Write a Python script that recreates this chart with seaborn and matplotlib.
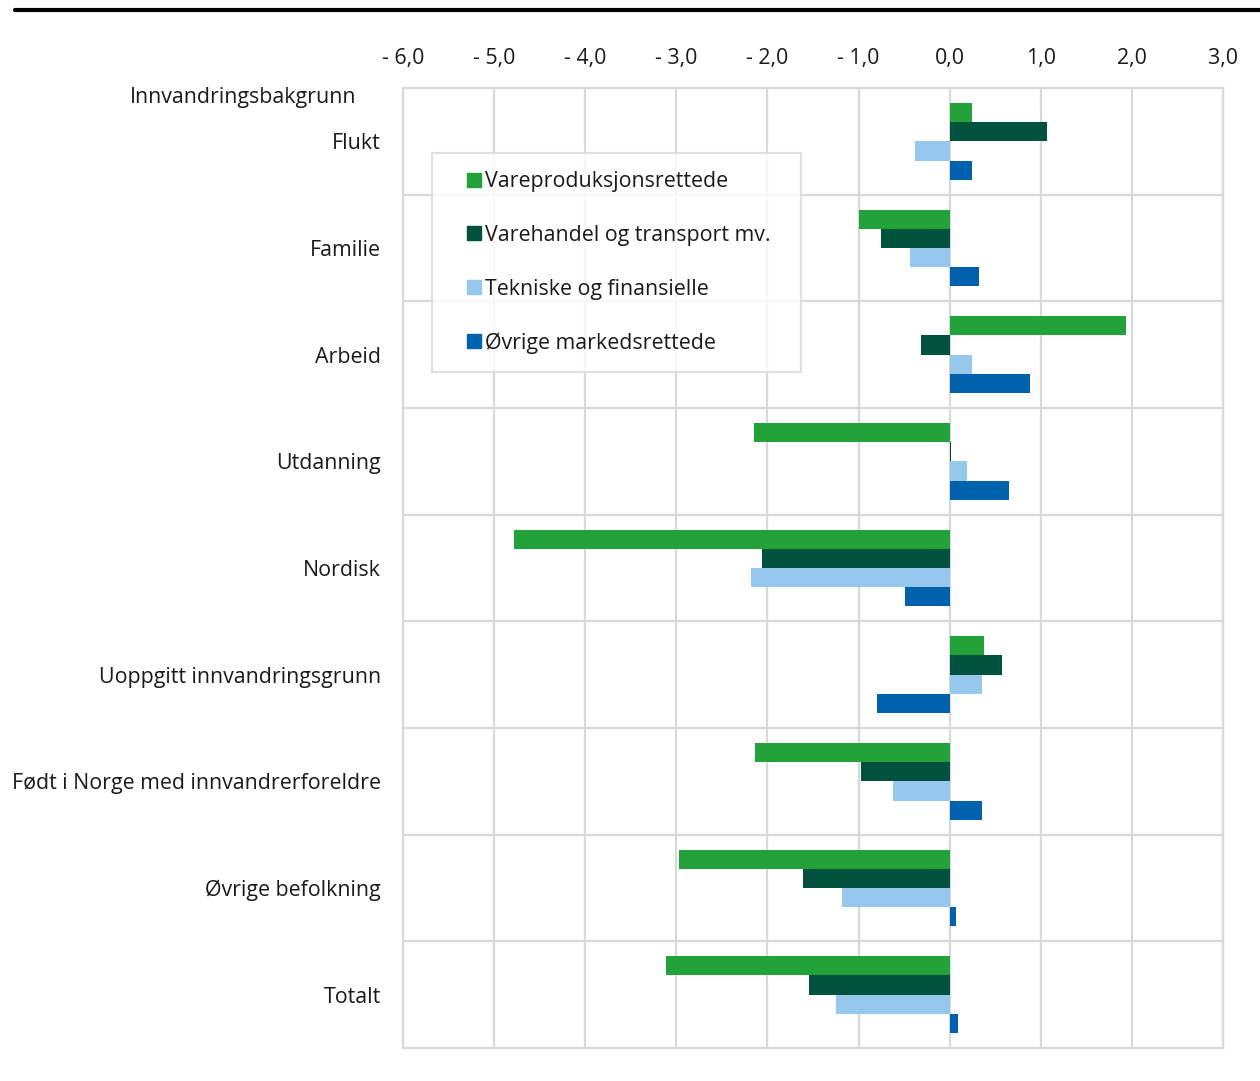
import pandas as pd
import matplotlib.pyplot as plt
import seaborn as sns
from matplotlib.lines import Line2D

# data
kategorier = ['Flukt', 'Familie', 'Arbeid', 'Utdanning', 'Nordisk',
              'Uoppgitt innvandringsgrunn', 'Født i Norge med innvandrerforeldre',
              'Øvrige befolkning', 'Totalt']
sektorer = ['Vareproduksjonsrettede', 'Varehandel og transport mv.',
            'Tekniske og finansielle', 'Øvrige markedsrettede']
vareproduksjon = [0.24, -1.00, 1.94, -2.15, -4.78, 0.38, -2.14, -2.97, -3.11]
varehandel = [1.07, -0.75, -0.32, 0.02, -2.06, 0.57, -0.97, -1.61, -1.54]
tekniske = [-0.38, -0.43, 0.25, 0.19, -2.18, 0.35, -0.62, -1.18, -1.25]
ovrige = [0.24, 0.32, 0.88, 0.65, -0.49, -0.80, 0.35, 0.07, 0.09]
x_ticks = [-6, -5, -4, -3, -2, -1, 0, 1, 2, 3]

farger = ['#22a238', '#00523f', '#96c8ee', '#0062ad']

df = pd.DataFrame({'kategori': kategorier * 4,
                   'sektor': [s for s in sektorer for _ in kategorier],
                   'verdi': vareproduksjon + varehandel + tekniske + ovrige})

sns.set_theme(style='white')
plt.rcParams['font.family'] = ['Open Sans', 'DejaVu Sans']
FS = 15.4
GRID = '#d9d9d9'
TXT = '#1a1a1a'

fig = plt.figure(figsize=(12.6, 10.81), dpi=100)
ax = fig.add_axes([403 / 1260, 1 - 1048 / 1081, 820 / 1260, 960 / 1081])

sns.barplot(data=df, y='kategori', x='verdi', hue='sektor', hue_order=sektorer,
            order=kategorier, palette=farger, saturation=1, orient='h', width=0.72,
            errorbar=None, legend=False, ax=ax, linewidth=0)

ax.set_xlim(-6, 3)
ax.set_ylim(len(kategorier) - 0.5, -0.5)
ax.set_xticks(x_ticks)
ax.set_xticklabels([('- ' if v < 0 else '') + f'{abs(v):.1f}'.replace('.', ',') for v in x_ticks])
ax.xaxis.tick_top()
ax.tick_params(axis='x', length=0, pad=14, labelsize=FS, colors=TXT)
ax.tick_params(axis='y', length=0, pad=16, labelsize=FS, colors=TXT)
ax.set_yticks([i - 0.5 for i in range(len(kategorier) + 1)], minor=True)
ax.set_xlabel('')
ax.set_ylabel('')
ax.set_axisbelow(True)
ax.grid(axis='x', which='major', color=GRID, lw=1.6)
ax.grid(axis='y', which='minor', color=GRID, lw=1.6)
ax.grid(axis='y', which='major', visible=False)
for sp in ax.spines.values():
    sp.set_color(GRID)
    sp.set_linewidth(1.6)

# legend box: fixed width, handle pushed right via negative text pad
handles = [Line2D([], [], ls='none', marker='s', markersize=10, color=c) for c in farger]
leg = ax.legend(handles, sektorer, loc='upper left', mode='expand',
                bbox_to_anchor=(29 / 820, (1048 - 153) / 960, 369 / 820, 0),
                borderaxespad=0, fontsize=FS, frameon=True, fancybox=False,
                borderpad=0.85, labelspacing=1.53, handlelength=2.2, handletextpad=-0.57)
leg.get_frame().set_edgecolor(GRID)
leg.get_frame().set_linewidth(1.6)
for t in leg.get_texts():
    t.set_color(TXT)

fig.text(356 / 1260, 1 - 98 / 1081, 'Innvandringsbakgrunn', ha='right', va='center',
         fontsize=FS, color=TXT)
fig.add_artist(Line2D([15 / 1260, 1], [1 - 9.5 / 1081] * 2, color='black', lw=3))

fig.savefig('out.png', dpi=100)
